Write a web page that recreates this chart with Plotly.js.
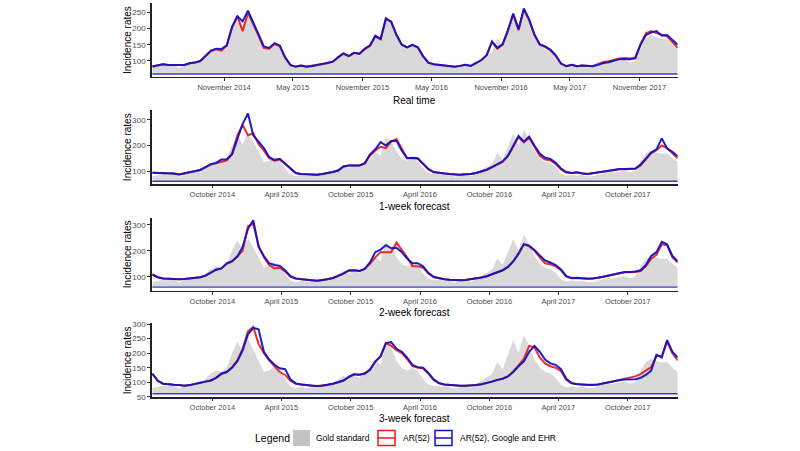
<!DOCTYPE html>
<html>
<head>
<meta charset="utf-8">
<script src="https://cdn.plot.ly/plotly-3.0.1.min.js"></script>
<style>html,body{margin:0;padding:0;background:#fff;}#chart{width:800px;height:451px;}</style>
</head>
<body>
<div id="chart"></div>
<script>
// Biweekly dates
const dates = [
'2014-04-26','2014-05-10','2014-05-24','2014-06-07','2014-06-21','2014-07-05','2014-07-19','2014-08-02','2014-08-16','2014-08-30',
'2014-09-13','2014-09-27','2014-10-11','2014-10-25','2014-11-08','2014-11-22','2014-12-06','2014-12-20','2015-01-03','2015-01-17',
'2015-01-31','2015-02-14','2015-02-28','2015-03-14','2015-03-28','2015-04-11','2015-04-25','2015-05-09','2015-05-23','2015-06-06',
'2015-06-20','2015-07-04','2015-07-18','2015-08-01','2015-08-15','2015-08-29','2015-09-12','2015-09-26','2015-10-10','2015-10-24',
'2015-11-07','2015-11-21','2015-12-05','2015-12-19','2016-01-02','2016-01-16','2016-01-30','2016-02-13','2016-02-27','2016-03-12',
'2016-03-26','2016-04-09','2016-04-23','2016-05-07','2016-05-21','2016-06-04','2016-06-18','2016-07-02','2016-07-16','2016-07-30',
'2016-08-13','2016-08-27','2016-09-10','2016-09-24','2016-10-08','2016-10-22','2016-11-05','2016-11-19','2016-12-03','2016-12-17',
'2016-12-31','2017-01-14','2017-01-28','2017-02-11','2017-02-25','2017-03-11','2017-03-25','2017-04-08','2017-04-22','2017-05-06',
'2017-05-20','2017-06-03','2017-06-17','2017-07-01','2017-07-15','2017-07-29','2017-08-12','2017-08-26','2017-09-09','2017-09-23',
'2017-10-07','2017-10-21','2017-11-04','2017-11-18','2017-12-02','2017-12-16','2017-12-30','2018-01-13','2018-01-27','2018-02-10'];

const goldStandard = [80,85,88,86,88,78,87,92,94,98, 112,130,140,135,150,200,240,205,250,215,
 175,135,140,155,145,110,85,80,84,80, 82,85,88,92,97,110,122,112,122,115,
 135,145,175,160,232,215,175,148,140,150, 138,112,92,88,86,86,83,78,82,86,
 80,92,102,115,128,170,145,195,245,200, 262,225,178,150,135,130,115,90,82,85,
 82,84,80,80,86,92,95,95,100,102, 95,100,140,170,180,172,168,170,150,135];

const baselineLevel = 60;

// Real time
const rtAR52 = [83,86,90,88,88,87,88,93,95,100, 115,130,136,132,148,203,238,192,248,215,
 178,140,138,152,145,110,87,83,86,83, 85,87,90,93,98,112,123,115,125,122,
 136,146,176,166,228,222,180,150,142,150, 142,115,95,90,88,88,85,82,85,88,
 85,93,103,118,158,138,150,193,244,195, 258,226,180,150,143,133,116,92,84,88,
 84,86,84,84,91,97,99,103,108,109, 108,111,152,185,192,186,180,176,158,140];
const rtAR52GE = [83,86,90,88,88,87,88,93,95,100, 115,132,138,137,148,205,238,222,255,220,
 185,145,140,155,148,112,88,82,86,82, 84,87,90,93,98,112,123,115,125,122,
 138,148,178,168,232,220,180,150,142,150, 142,115,95,90,88,88,85,82,85,88,
 85,93,103,118,160,140,152,195,246,198, 262,228,182,152,145,135,118,92,84,88,
 84,86,84,84,88,94,96,100,105,106, 105,108,150,180,188,192,178,180,165,150];

// 1-week forecast
const w1AR52 = [93,92,92,90,90,86,90,96,100,104, 115,125,130,135,142,168,240,280,240,248,
 205,180,150,140,145,128,108,92,88,87, 86,85,88,91,96,102,118,122,121,122,
 130,160,180,195,190,215,225,185,150,150, 148,128,106,95,92,90,88,86,85,87,
 88,92,98,105,115,125,136,158,198,232, 212,230,195,160,145,142,128,106,94,92,
 94,90,88,91,95,97,100,103,107,107, 108,109,122,148,170,182,200,190,170,150];
const w1AR52GE = [93,92,92,90,90,86,90,96,100,104, 115,127,132,145,146,165,225,285,325,240,
 215,190,155,143,148,130,110,92,88,87, 86,85,88,91,96,102,118,122,121,122,
 130,165,185,213,200,218,218,180,150,152, 150,130,108,96,92,90,88,86,85,87,
 88,92,98,105,115,125,138,160,200,237, 215,235,200,168,152,147,132,110,96,92,
 95,90,88,91,95,97,100,103,108,108, 109,110,125,150,172,185,228,188,175,158];

// 2-week forecast
const w2AR52 = [110,98,93,92,90,90,91,93,95,98, 104,115,127,132,150,158,178,200,295,305,
 220,175,145,132,135,120,100,93,90,88, 86,84,86,90,95,102,112,124,125,122,
 130,150,175,195,195,195,232,205,175,140, 140,135,112,98,93,90,88,86,86,87,
 90,92,97,102,110,118,125,138,158,188, 225,218,200,175,152,148,140,125,100,94,
 95,93,92,93,96,100,105,110,114,117, 117,118,122,140,170,185,225,222,175,155];
const w2AR52GE = [108,98,93,92,90,90,91,93,95,98, 104,115,127,132,152,160,178,215,285,318,
 215,180,152,145,142,125,102,93,90,88, 86,84,86,90,95,102,112,124,125,122,
 130,155,195,205,222,210,212,195,170,152, 152,140,115,100,94,90,88,86,86,87,
 90,92,97,102,110,118,125,138,160,190, 226,220,203,182,163,155,145,128,102,95,
 96,94,92,93,96,100,105,110,114,118, 118,120,125,145,180,195,235,225,180,160];

// 3-week forecast
const w3AR52 = [128,105,95,92,91,90,88,90,93,98, 102,106,115,128,135,152,175,215,275,290,
 232,200,175,155,135,125,105,95,92,90, 88,87,88,91,95,100,106,118,127,126,
 130,145,170,188,235,225,210,200,180,155, 150,148,130,108,96,92,90,89,88,88,
 88,90,93,97,102,108,112,120,137,158, 180,225,220,185,165,155,150,138,108,96,
 93,92,90,90,92,96,100,105,108,112, 115,120,128,140,152,190,190,240,200,175];
const w3AR52GE = [130,105,95,92,91,90,88,90,93,98, 102,106,115,130,135,150,172,210,265,287,
 282,205,178,160,148,145,110,96,92,90, 88,87,88,91,95,100,106,118,127,126,
 130,142,172,190,235,238,215,205,185,160, 152,150,132,110,97,92,90,89,88,88,
 88,90,93,97,102,108,112,120,135,155, 172,205,225,205,178,165,160,145,112,97,
 93,92,90,90,92,96,100,105,107,109, 110,110,115,125,140,195,185,245,205,185];

// Ticks
const tickValsA = ['2014-11-01','2015-05-01','2015-11-01','2016-05-01','2016-11-01','2017-05-01','2017-11-01'];
const tickTextA = ['November 2014','May 2015','November 2015','May 2016','November 2016','May 2017','November 2017'];
const tickValsB = ['2014-10-01','2015-04-01','2015-10-01','2016-04-01','2016-10-01','2017-04-01','2017-10-01'];
const tickTextB = ['October 2014','April 2015','October 2015','April 2016','October 2016','April 2017','October 2017'];
const yTicks1 = [100,150,200,250];
const yTicks2 = [100,200,300];
const yTicks3 = [100,200,300];
const yTicks4 = [50,100,150,200,250,300];

const panelTitles = ['Real time','1-week forecast','2-week forecast','3-week forecast'];
const legendLabels = ['Gold standard','AR(52)','AR(52), Google and EHR'];

const W = 800, H = 451;
const RED = '#f01818', BLUE = '#1212c4', GRAY = '#d9d9d9';
const FONT = 'Liberation Sans, Arial, sans-serif';

const panels = [
  {ar: rtAR52, ge: rtAR52GE, top: 3.3, bot: 76.7, yr: [51.6, 277.7], yt: yTicks1, tv: tickValsA, tt: tickTextA, title: 100.5},
  {ar: w1AR52, ge: w1AR52GE, top: 110, bot: 184.3, yr: [48, 339], yt: yTicks2, tv: tickValsB, tt: tickTextB, title: 206},
  {ar: w2AR52, ge: w2AR52GE, top: 217.7, bot: 290.7, yr: [46, 328], yt: yTicks3, tv: tickValsB, tt: tickTextB, title: 312.5},
  {ar: w3AR52, ge: w3AR52GE, top: 323.3, bot: 397.3, yr: [48, 303], yt: yTicks4, tv: tickValsB, tt: tickTextB, title: 418.5}
];

const xL = 151.7, xR = 677.7;
const traces = [];
const layout = {
  width: W, height: H, margin: {l:0, r:0, t:0, b:0},
  paper_bgcolor: '#fff', plot_bgcolor: '#fff', showlegend: false,
  font: {family: FONT},
  annotations: [], shapes: []
};

panels.forEach((p, i) => {
  const n = i === 0 ? '' : String(i + 1);
  const xa = 'x' + n, ya = 'y' + n;
  const base = dates.map(() => baselineLevel);
  traces.push({x: dates, y: base, xaxis: xa, yaxis: ya, mode: 'lines', line: {width: 0}, hoverinfo: 'skip'});
  traces.push({x: dates, y: goldStandard, xaxis: xa, yaxis: ya, mode: 'lines', fill: 'tonexty', fillcolor: GRAY, line: {width: 0, color: GRAY}});
  traces.push({x: dates, y: base, xaxis: xa, yaxis: ya, mode: 'lines', line: {width: 1.4, color: '#3a3ad0'}});
  traces.push({x: dates, y: p.ar, xaxis: xa, yaxis: ya, mode: 'lines', line: {width: 2, color: RED}, opacity: 0.92});
  traces.push({x: dates, y: p.ge, xaxis: xa, yaxis: ya, mode: 'lines', line: {width: 2, color: BLUE}, opacity: 0.95});

  layout['xaxis' + n] = {
    domain: [xL / W, xR / W], anchor: ya, type: 'date', range: ['2014-04-24', '2018-02-10'],
    tickmode: 'array', tickvals: p.tv, ticktext: p.tt, ticks: 'outside', ticklen: 2.5, tickwidth: 1, tickcolor: '#333',
    showline: true, linecolor: '#222', linewidth: 1.4, showgrid: false, zeroline: false,
    tickfont: {size: 7.5, color: '#4d4d4d', family: FONT}
  };
  layout['yaxis' + n] = {
    domain: [1 - p.bot / H, 1 - p.top / H], anchor: xa, range: p.yr,
    tickmode: 'array', tickvals: p.yt, ticks: 'outside', ticklen: 3, tickwidth: 1, tickcolor: '#333',
    showline: true, linecolor: '#222', linewidth: 1.4, showgrid: false, zeroline: false,
    tickfont: {size: 8, color: '#4d4d4d', family: FONT}
  };
  layout.annotations.push({xref: 'paper', yref: 'paper', x: (xL + xR) / 2 / W, y: 1 - p.title / H,
    text: panelTitles[i], showarrow: false, xanchor: 'center', yanchor: 'middle', font: {size: 10, color: '#000', family: FONT}});
  layout.annotations.push({xref: 'paper', yref: 'paper', x: 127 / W, y: 1 - (p.top + p.bot) / 2 / H,
    text: 'Incidence rates', textangle: -90, showarrow: false, xanchor: 'center', yanchor: 'middle', font: {size: 10, color: '#000', family: FONT}});
});

// Legend (drawn manually)
const ly = 438;
const px = v => v / W, py = v => 1 - v / H;
layout.annotations.push({xref: 'paper', yref: 'paper', x: px(253), y: py(ly), text: 'Legend', showarrow: false, xanchor: 'left', yanchor: 'middle', font: {size: 10.5, color: '#000', family: FONT}});
layout.shapes.push({type: 'rect', xref: 'paper', yref: 'paper', x0: px(293), x1: px(310), y0: py(430), y1: py(446), fillcolor: '#c4c4c4', line: {width: 0}});
layout.annotations.push({xref: 'paper', yref: 'paper', x: px(314), y: py(ly), text: legendLabels[0], showarrow: false, xanchor: 'left', yanchor: 'middle', font: {size: 8.5, color: '#000', family: FONT}});
[[378, RED, 1], [435, BLUE, 2]].forEach(([x0, c, li]) => {
  layout.shapes.push({type: 'rect', xref: 'paper', yref: 'paper', x0: px(x0), x1: px(x0 + 17), y0: py(430.5), y1: py(445.5), fillcolor: 'rgba(0,0,0,0)', line: {width: 1.5, color: c}});
  layout.shapes.push({type: 'line', xref: 'paper', yref: 'paper', x0: px(x0), x1: px(x0 + 17), y0: py(ly), y1: py(ly), line: {width: 1.5, color: c}});
  layout.annotations.push({xref: 'paper', yref: 'paper', x: px(x0 + 23), y: py(ly), text: legendLabels[li], showarrow: false, xanchor: 'left', yanchor: 'middle', font: {size: 8.5, color: '#000', family: FONT}});
});

Plotly.newPlot('chart', traces, layout, {displayModeBar: false, staticPlot: true});
</script>
</body>
</html>
